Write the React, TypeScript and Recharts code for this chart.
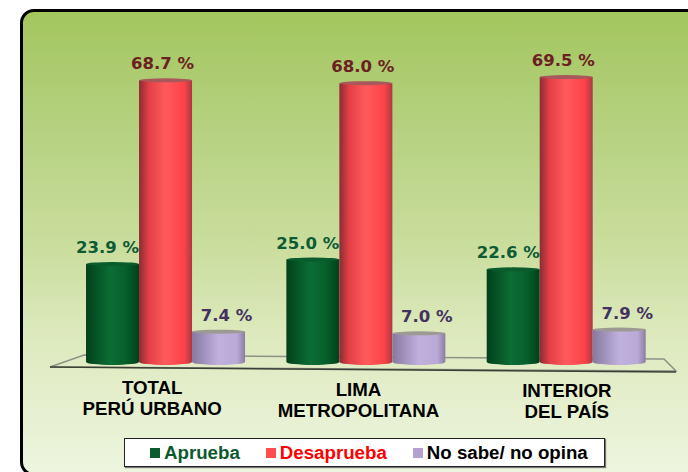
import { BarChart, Bar, XAxis, YAxis, Legend, LabelList } from 'recharts';

const categories = [['TOTAL', 'PERÚ URBANO'], ['LIMA', 'METROPOLITANA'], ['INTERIOR', 'DEL PAÍS']];
const aprueba = [23.9, 25.0, 22.6];
const desaprueba = [68.7, 68.0, 69.5];
const noSabe = [7.4, 7.0, 7.9];

const data = categories.map((lines, i) => ({
  name: lines.join(' '),
  aprueba: aprueba[i],
  desaprueba: desaprueba[i],
  noSabe: noSabe[i],
}));

const tickShiftX = [-14, -8, 0];
const tickShiftY = [0, 2, 3];
const legendColors: Record<string, string> = {
  Aprueba: '#0b5a2e',
  Desaprueba: '#ff0000',
  'No sabe/ no opina': '#000000',
};

function Cylinder({ x, y, width, height, fill, rim }: any) {
  const ry = 3;
  const r = width / 2;
  const side = `M${x},${y} L${x},${y + height} A${r},${ry} 0 0 0 ${x + width},${y + height} L${x + width},${y} Z`;
  return (
    <g>
      <path d={side} fill={fill} />
      <ellipse cx={x + r} cy={y} rx={r} ry={ry - 1} fill={rim} />
    </g>
  );
}

function CategoryTick({ x, y, index }: any) {
  const lines = categories[index];
  const cx = x + tickShiftX[index];
  const top = y + tickShiftY[index];
  return (
    <text fontFamily="Liberation Sans" fontWeight="bold" fontSize={18.7} fill="#000" textAnchor="middle">
      <tspan x={cx} y={top + 24}>{lines[0]}</tspan>
      <tspan x={cx} y={top + 45}>{lines[1]}</tspan>
    </text>
  );
}

function ChartLegend({ payload }: any) {
  return (
    <div
      style={{
        boxSizing: 'border-box',
        position: 'relative',
        left: 124,
        width: 481,
        height: 29,
        marginTop: 6,
        background: '#fff',
        border: '1px solid #222',
        boxShadow: '1px 1px 1px #777',
        display: 'flex',
        alignItems: 'center',
        paddingLeft: 25,
        fontFamily: 'Liberation Sans',
        fontWeight: 'bold',
        fontSize: 18.7,
        whiteSpace: 'nowrap',
      }}
    >
      {(payload || []).map((item: any) => (
        <span key={item.value} style={{ display: 'flex', alignItems: 'center', marginRight: 26 }}>
          <span style={{ width: 10, height: 10, background: item.payload.stroke, marginRight: 4 }} />
          <span style={{ color: legendColors[item.value] }}>{item.value}</span>
        </span>
      ))}
    </div>
  );
}

function valueLabel(color: string, dx: number) {
  return (
    <LabelList
      position="top"
      dataKey={undefined as any}
      content={(p: any) => (
        <text
          x={p.x + p.width / 2 + dx}
          y={p.y - 11}
          textAnchor="middle"
          fontFamily="DejaVu Sans"
          fontWeight="bold"
          fontSize={16.5}
          fill={color}
        >
          {Number(p.value).toFixed(1)} %
        </text>
      )}
    />
  );
}

export default function App() {
  return (
    <div style={{ position: 'absolute', left: 0, top: 0, width: 688, height: 472, overflow: 'hidden', background: '#fff' }}>
      <div
        style={{
          position: 'absolute',
          left: 20,
          top: 9,
          width: 700,
          height: 467,
          boxSizing: 'border-box',
          border: '3px solid #000',
          borderRadius: 14,
          background: 'linear-gradient(180deg, #a3c65e 0%, #b5d180 25%, #c9dd9c 50%, #dde9bd 70%, #eef5df 100%)',
        }}
      />
      {/* floor of the 3D plot */}
      <svg width={688} height={472} style={{ position: 'absolute', left: 0, top: 0 }}>
        <path d="M50,367 L84,355 L664,359 L676,371 Z" fill="none" stroke="#8d9384" strokeWidth={1.5} />
        <path d="M50,367 L676,372" stroke="#3a3f35" strokeWidth={1.5} />
      </svg>
      <div style={{ position: 'absolute', left: 0, top: 0 }}>
        <BarChart
          width={688}
          height={472}
          data={data}
          margin={{ top: 34, right: 21, bottom: 5, left: 66 }}
          barCategoryGap="10%"
          barGap={0}
        >
          <defs>
            <linearGradient id="cylGreen" x1="0" y1="0" x2="1" y2="0">
              <stop offset="0%" stopColor="#01401a" />
              <stop offset="45%" stopColor="#0c6d35" />
              <stop offset="75%" stopColor="#06602b" />
              <stop offset="100%" stopColor="#023f1b" />
            </linearGradient>
            <linearGradient id="cylRed" x1="0" y1="0" x2="1" y2="0">
              <stop offset="0%" stopColor="#8a2d33" />
              <stop offset="18%" stopColor="#e23e45" />
              <stop offset="50%" stopColor="#ff5a5c" />
              <stop offset="85%" stopColor="#fd4249" />
              <stop offset="100%" stopColor="#a93a40" />
            </linearGradient>
            <linearGradient id="cylPurple" x1="0" y1="0" x2="1" y2="0">
              <stop offset="0%" stopColor="#86799f" />
              <stop offset="50%" stopColor="#c0b0de" />
              <stop offset="85%" stopColor="#b9a9d6" />
              <stop offset="100%" stopColor="#8a7ea0" />
            </linearGradient>
          </defs>
          <XAxis
            dataKey="name"
            axisLine={false}
            tickLine={false}
            height={70}
            interval={0}
            tick={<CategoryTick />}
          />
          <YAxis hide domain={[0, 80]} />
          <Legend verticalAlign="bottom" height={35} content={<ChartLegend />} wrapperStyle={{ left: 0, width: 688 }} />
          <Bar
            dataKey="aprueba"
            name="Aprueba"
            stroke="#0a5c2c"
            strokeWidth={0}
            isAnimationActive={false}
            shape={(p: any) => <Cylinder {...p} fill="url(#cylGreen)" rim="#0a5c2c" />}
          >
            {valueLabel('#0d5a35', -5)}
          </Bar>
          <Bar
            dataKey="desaprueba"
            name="Desaprueba"
            stroke="#ff4d4d"
            strokeWidth={0}
            isAnimationActive={false}
            shape={(p: any) => <Cylinder {...p} fill="url(#cylRed)" rim="#a8585a" />}
          >
            {valueLabel('#6b2022', -3)}
          </Bar>
          <Bar
            dataKey="noSabe"
            name="No sabe/ no opina"
            stroke="#b3a2cf"
            strokeWidth={0}
            isAnimationActive={false}
            shape={(p: any) => <Cylinder {...p} fill="url(#cylPurple)" rim="#9d9a94" />}
          >
            {valueLabel('#43315f', 8)}
          </Bar>
        </BarChart>
      </div>
    </div>
  );
}
